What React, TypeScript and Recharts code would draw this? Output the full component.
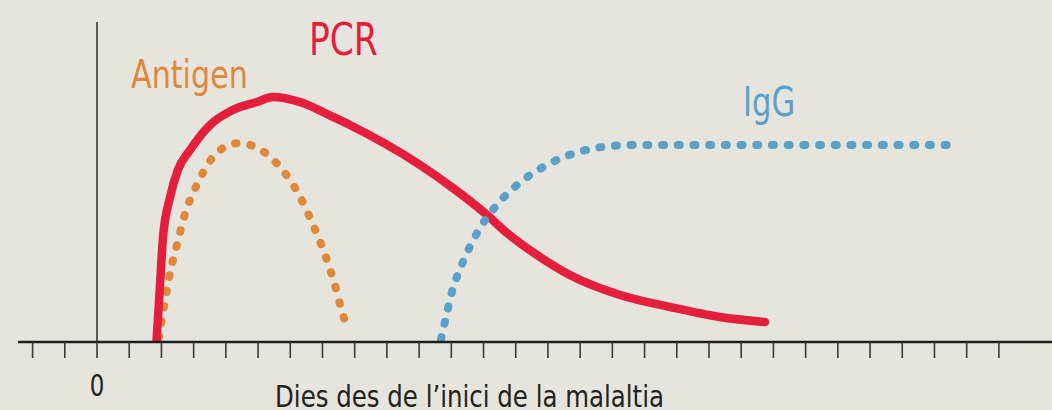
import React from "react";
import { LineChart, Line, XAxis, YAxis, ReferenceLine } from "recharts";

// day since onset -> relative level (0..320)
const pcrDays = [1.85, 1.96, 2.05, 2.27, 2.51, 2.89, 3.51, 4.22, 4.97, 5.46, 6.3, 7.33, 7.85, 10.03, 11.05, 12.11, 12.73, 13.66, 14.68, 16.24, 17.79, 19.34, 20.74];
const pcrVals = [2, 59, 105, 145, 172, 192, 217, 232, 240, 245, 240, 225, 217, 177, 154, 127, 109, 87, 67, 47, 35, 25, 20];

const antigenDays = [1.92, 2.08, 2.24, 2.48, 2.73, 3.1, 3.6, 3.97, 4.44, 4.91, 5.31, 5.68, 6.24, 6.67, 7.05, 7.36, 7.61, 7.79];
const antigenVals = [4, 35, 65, 97, 128, 157, 185, 195, 199, 195, 187, 175, 149, 120, 90, 60, 30, 12];

const iggDays = [10.68, 10.8, 11.02, 11.36, 11.8, 12.36, 13.04, 13.85, 14.75, 15.68, 16.67, 18.72, 26.54];
const iggVals = [3, 20, 50, 80, 109, 135, 157, 175, 188, 195, 197, 197, 197];

const dayTicks = Array.from({ length: 31 }, (_, i) => i - 2);

const toRows = (days: number[], vals: number[]) => days.map((d, i) => ({ d, v: vals[i] }));

const FONT = '"Liberation Sans Narrow", "DejaVu Sans Condensed", "Roboto Condensed", sans-serif';

const RED = "#e31f3d";
const ORANGE = "#e0883a";
const BLUE = "#5ba0c8";

const DayTick = (props: any) => {
  const { x, y, payload } = props;
  if (payload.value !== 0) return null;
  return (
    <text x={x} y={y + 36} textAnchor="middle" fontSize={30} fill="#222" fontFamily={FONT} transform={`translate(${x} 0) scale(0.85 1) translate(${-x} 0)`}>
      0
    </text>
  );
};

const labelStyle = (left: number, top: number, size: number, sx: number, color: string): React.CSSProperties => ({
  position: "absolute",
  left,
  top,
  fontSize: size,
  color,
  lineHeight: 1,
  whiteSpace: "nowrap",
  transform: `scaleX(${sx})`,
  transformOrigin: "left top",
});

export default function App() {
  return (
    <div style={{ position: "fixed", left: 0, top: 0, width: 1052, height: 410, background: "#e6e5dd", overflow: "hidden", fontFamily: FONT }}>
      <LineChart width={1052} height={410} margin={{ top: 22, right: 0, left: 18, bottom: 38 }}>
        <XAxis
          type="number"
          dataKey="d"
          domain={[-2.4527, 29.649]}
          allowDataOverflow
          ticks={dayTicks}
          interval={0}
          tick={<DayTick />}
          tickSize={16}
          tickLine={{ stroke: "#3a3a3a", strokeWidth: 1.6 }}
          axisLine={{ stroke: "#1e1e1e", strokeWidth: 2.6 }}
        />
        <YAxis hide domain={[0, 320]} allowDataOverflow />
        <ReferenceLine x={0} stroke="#222" strokeWidth={1.4} />
        <Line
          data={toRows(antigenDays, antigenVals)}
          dataKey="v"
          type="monotone"
          stroke={ORANGE}
          strokeWidth={8}
          strokeLinecap="round"
          strokeDasharray="1.5 14"
          dot={false}
          isAnimationActive={false}
        />
        <Line
          data={toRows(pcrDays, pcrVals)}
          dataKey="v"
          type="monotone"
          stroke={RED}
          strokeWidth={8.5}
          strokeLinecap="round"
          dot={false}
          isAnimationActive={false}
        />
        <Line
          data={toRows(iggDays, iggVals)}
          dataKey="v"
          type="monotone"
          stroke={BLUE}
          strokeWidth={8}
          strokeLinecap="round"
          strokeDasharray="2 13.7"
          dot={false}
          isAnimationActive={false}
        />
      </LineChart>
      <div style={labelStyle(309, 18, 44, 0.87, RED)}>PCR</div>
      <div style={labelStyle(131, 55, 39, 0.86, ORANGE)}>Antigen</div>
      <div style={labelStyle(743, 82, 41, 0.83, BLUE)}>IgG</div>
      <div style={labelStyle(275, 381, 31, 0.877, "#222")}>Dies des de l’inici de la malaltia</div>
    </div>
  );
}
